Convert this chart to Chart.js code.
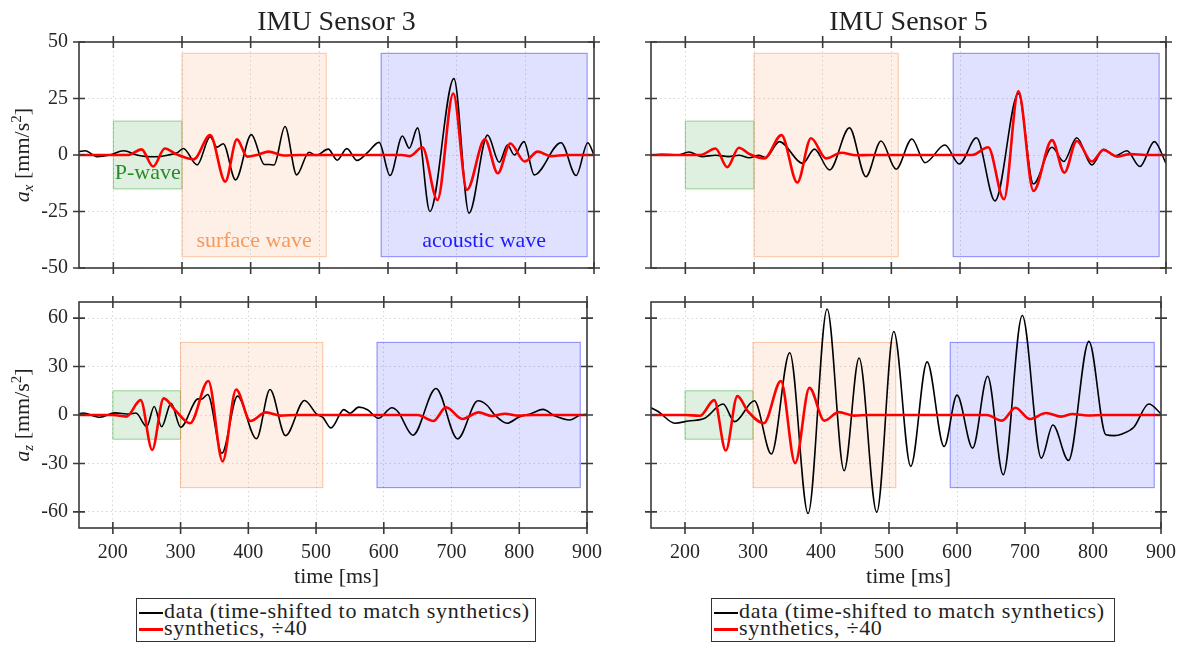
<!DOCTYPE html>
<html>
<head>
<meta charset="utf-8">
<script src="https://cdn.jsdelivr.net/npm/chart.js@4.4.1/dist/chart.umd.min.js"></script>
<style>
  html, body { margin: 0; padding: 0; background: #fff; }
  body { width: 1189px; height: 652px; position: relative; overflow: hidden; font-family: "Liberation Serif", serif; color: #222; }
  .panel { position: absolute; }
  .title { position: absolute; font-size: 28px; line-height: 28px; text-align: center; white-space: nowrap; }
  .xlab { position: absolute; font-size: 22px; line-height: 22px; text-align: center; white-space: nowrap; }
  .ylab { position: absolute; width: 200px; height: 22px; font-size: 22px; line-height: 22px; text-align: center; white-space: nowrap; transform: rotate(-90deg); }
  .ylab .sb { font-size: 15px; position: relative; top: 4px; }
  .ylab .sp { font-size: 15px; position: relative; top: -8px; }
  .legend { position: absolute; border: 1.3px solid #333; box-sizing: border-box; height: 44px; padding-top: 3px; font-size: 22px; letter-spacing: 0.7px; background: #fff; }
  .legend div { height: 17px; line-height: 17px; white-space: nowrap; }
  .legend .sw { display: inline-block; width: 24px; height: 0; vertical-align: middle; margin: 0 1px 0 2px; }
</style>
</head>
<body>

<div class="panel" style="left:0;top:0;width:615px;height:290px"><canvas id="s3x"></canvas></div>
<div class="panel" style="left:600px;top:0;width:589px;height:290px"><canvas id="s5x"></canvas></div>
<div class="panel" style="left:0;top:290px;width:615px;height:300px"><canvas id="s3z"></canvas></div>
<div class="panel" style="left:600px;top:290px;width:589px;height:300px"><canvas id="s5z"></canvas></div>

<div class="title" style="left:79px;width:515px;top:7px">IMU Sensor 3</div>
<div class="title" style="left:651px;width:515px;top:7px">IMU Sensor 5</div>

<div class="ylab" style="left:-78px;top:144px"><i>a<span class="sb">x</span></i> [mm/s<span class="sp">2</span>]</div>
<div class="ylab" style="left:-78px;top:404px"><i>a<span class="sb">z</span></i> [mm/s<span class="sp">2</span>]</div>

<div class="xlab" style="left:79px;width:515px;top:565px">time [ms]</div>
<div class="xlab" style="left:651px;width:515px;top:565px">time [ms]</div>

<div class="legend" style="left:136px;top:598px;width:400px">
  <div><span class="sw" style="border-top:2px solid #000"></span>data (time-shifted to match synthetics)</div>
  <div><span class="sw" style="border-top:3px solid #f00"></span>synthetics, ÷40</div>
</div>
<div class="legend" style="left:711px;top:598px;width:404px">
  <div><span class="sw" style="border-top:2px solid #000"></span>data (time-shifted to match synthetics)</div>
  <div><span class="sw" style="border-top:3px solid #f00"></span>synthetics, ÷40</div>
</div>

<script>
// ---- axis ticks ----
var timeTicks = [200, 300, 400, 500, 600, 700, 800, 900];
var axTicks = [-50, -25, 0, 25, 50];
var azTicks = [-60, -30, 0, 30, 60];

// ---- shaded windows: [start ms, end ms, low, high] ----
var pWaveWin = [200, 300, -15, 15];
var surfaceWin = [300, 510, -45, 45];
var acousticWin = [590, 890, -45, 45];

// ---- IMU sensor 3, a_x ----
var s3xDataT = [150,159,176,195,215,234,249,263,280,293,302,322,341,351,360,378,401,420,427,434,450,467,485,495,513,526,540,555,570,587,603,621,631,643,661,696,718,745,762,774,784,798,813,852,874,891,900];
var s3xDataV = [1.5,1.9,-0.7,0,1.9,0,-0.7,-0.8,0,1,2.9,-4.4,8,3.5,5,-11,9,-4.2,-4.2,-4.4,12.6,-8.8,1.2,-0.2,2.6,-2.3,2.8,-2.4,1,5.6,-9.1,8.4,3,12,-25,33.8,-25.7,8.8,-3.2,4.4,0,5.9,-8.8,5.4,-9.1,5.4,0];
var s3xSynT = [150,205,222,241,258,275,292,317,341,363,380,395,409,426,448,470,620,632,650,672,695,715,741,760,778,799,818,837,860,900];
var s3xSynV = [0,0,0,2.5,-5.1,2.9,0.3,-1.9,8.8,-11.8,6.9,-0.7,0,1.5,-0.2,0,0,-0.5,3.4,-19.9,27.2,-15.4,6.9,-8.1,5.1,-2.9,1.5,-0.5,0,0];

// ---- IMU sensor 5, a_x ----
var s5xDataT = [150,165,190,205,224,244,263,278,293,307,317,337,371,388,410,439,463,485,507,530,549,578,599,624,651,685,707,734,751,770,792,809,826,843,862,883,900];
var s5xDataV = [0,0.3,0,1.3,-0.7,-0.1,-0.7,-0.1,-1.2,-0.1,-1.2,5.9,-3.7,2.6,-6.6,12,-9.6,6.2,-6.3,7.1,-3.4,4.4,-4,7.6,-20.3,27.2,-12.8,3.4,-2.9,7.6,-4.4,2.5,-0.4,1.9,-5.1,5.9,-3.7];
var s5xSynT = [150,200,222,244,261,278,293,315,340,363,383,405,427,449,470,618,641,664,685,707,734,752,770,792,809,829,848,870,900];
var s5xSynV = [0,0,0,2.9,-5.4,3.2,0.5,-1.5,8.8,-12.2,7.4,-1.5,1,-0.1,0,0,3.4,-19.6,28.2,-15.9,6.6,-7.8,6.2,-2.9,2.2,-0.7,0.4,0,0];

// ---- IMU sensor 3, a_z ----
var s3zDataT = [150,156,181,203,224,234,250,261,272,286,300,326,331,340,361,384,412,432,455,483,501,510,522,541,550,563,576,592,612,621,643,677,709,739,752,764,782,799,818,835,852,875,890,900];
var s3zDataV = [0.6,1.2,-1.4,1.3,0.6,1.2,-7.2,5.3,-7.3,7.2,-7.6,10,9.8,12.7,-23.6,11.7,-14.7,15.8,-12.8,9,0.5,-1.5,-8,3.3,1.1,4.9,3.3,-2,4.5,2,-12.5,16.4,-14.8,8.8,6.2,0,-5.1,-1.4,1,3.5,-0.5,-3.1,0,0.4];
var s3zSynT = [150,200,220,241,258,275,292,314,341,362,382,403,426,448,470,650,673,692,716,740,760,779,799,820,900];
var s3zSynV = [0,0,-1,9.2,-21.6,10.3,3,-5.1,21.1,-28.7,15.8,-3.7,1.6,-0.4,0,0,-3.7,4.7,-2.5,1.6,-0.6,0.8,-0.4,0,0];

// ---- IMU sensor 5, a_z ----
var s5zDataT = [150,161,185,205,229,256,273,302,327,354,381,409,434,456,482,507,532,556,581,600,623,645,668,696,724,741,764,794,819,831,843,860,882,900];
var s5zDataV = [4.5,2,-5.1,-3.7,-2,6.8,-4.1,8.8,-24.2,38.6,-61,65.7,-34.5,35.3,-60.2,51.7,-31.8,32.9,-19.5,12.3,-20.5,24,-37,61.6,-26.7,-6.2,-28.1,45.6,-12.3,-12.8,-11.7,-7.6,6.8,0.8];
var s5zSynT = [150,200,222,243,260,277,293,316,341,362,383,405,426,449,470,644,666,686,707,731,753,770,792,815,900];
var s5zSynV = [0,0,-0.5,9.2,-22,11.7,2,-5.1,21,-29.8,16.8,-3.5,1.8,-0.4,0,0,-3.5,4.5,-2.5,1.2,-1,0.6,-0.3,0,0];

var serif = '"Liberation Serif", serif';
var tickFont = { family: serif, size: 20 };

function toPoints(t, v) {
    return t.map(function (x, i) { return { x: x, y: v[i] }; });
}

// boxes, labels, full frame and MATLAB-style tick marks
function framePlugin(withNotes) {
    var boxes = [
        { win: pWaveWin, fill: 'rgba(0,128,0,0.12)', edge: 'rgba(0,150,0,0.4)' },
        { win: surfaceWin, fill: 'rgba(250,130,60,0.12)', edge: 'rgba(245,130,60,0.45)' },
        { win: acousticWin, fill: 'rgba(0,0,255,0.12)', edge: 'rgba(0,0,255,0.45)' }
    ];
    var notes = withNotes ? [
        { text: 'P-wave', t: 250, v: -8, color: '#2a8a2a' },
        { text: 'surface wave', t: 405, v: -38, color: '#f5995c' },
        { text: 'acoustic wave', t: 740, v: -38, color: '#1c1cff' }
    ] : [];
    return {
        id: 'frame',
        beforeDatasetsDraw: function (chart) {
            var ctx = chart.ctx, x = chart.scales.x, y = chart.scales.y;
            ctx.save();
            boxes.forEach(function (b) {
                var x0 = x.getPixelForValue(b.win[0]), x1 = x.getPixelForValue(b.win[1]);
                var y0 = y.getPixelForValue(b.win[3]), y1 = y.getPixelForValue(b.win[2]);
                ctx.fillStyle = b.fill;
                ctx.fillRect(x0, y0, x1 - x0, y1 - y0);
                ctx.strokeStyle = b.edge;
                ctx.lineWidth = 1;
                ctx.strokeRect(x0, y0, x1 - x0, y1 - y0);
            });
            ctx.font = '22px ' + serif;
            ctx.textAlign = 'center';
            ctx.textBaseline = 'middle';
            notes.forEach(function (n) {
                ctx.fillStyle = n.color;
                ctx.fillText(n.text, x.getPixelForValue(n.t), y.getPixelForValue(n.v));
            });
            ctx.restore();
        },
        afterDraw: function (chart) {
            var ctx = chart.ctx, a = chart.chartArea, x = chart.scales.x, y = chart.scales.y;
            ctx.save();
            ctx.strokeStyle = '#3a3a3a';
            ctx.lineWidth = 1.6;
            ctx.strokeRect(a.left, a.top, a.right - a.left, a.bottom - a.top);
            ctx.beginPath();
            x.ticks.forEach(function (t) {
                var p = x.getPixelForValue(t.value);
                ctx.moveTo(p, a.top - 6); ctx.lineTo(p, a.top + 6);
                ctx.moveTo(p, a.bottom - 6); ctx.lineTo(p, a.bottom + 6);
            });
            y.ticks.forEach(function (t) {
                var p = y.getPixelForValue(t.value);
                ctx.moveTo(a.left - 6, p); ctx.lineTo(a.left + 6, p);
                ctx.moveTo(a.right - 6, p); ctx.lineTo(a.right + 6, p);
            });
            ctx.stroke();
            ctx.restore();
        }
    };
}

function makePanel(id, dataT, dataV, synT, synV, yTicks, yLim, o) {
    return new Chart(document.getElementById(id), {
        type: 'line',
        data: {
            datasets: [
                { label: 'data', data: toPoints(dataT, dataV), borderColor: '#000', borderWidth: 1.6, order: 2 },
                { label: 'synthetics', data: toPoints(synT, synV), borderColor: '#ff0000', borderWidth: 2.6, order: 1 }
            ]
        },
        options: {
            animation: false,
            responsive: true,
            maintainAspectRatio: false,
            events: [],
            layout: { padding: o.padding },
            elements: {
                point: { radius: 0 },
                line: { cubicInterpolationMode: 'monotone', fill: false }
            },
            plugins: { legend: { display: false }, tooltip: { enabled: false } },
            scales: {
                x: {
                    type: 'linear', min: 150, max: 900,
                    afterBuildTicks: function (s) { s.ticks = timeTicks.map(function (v) { return { value: v }; }); },
                    afterFit: function (s) { s.height = o.xHeight; },
                    ticks: { display: o.xLabels, font: tickFont, color: '#262626', padding: 13, maxRotation: 0, autoSkip: false },
                    grid: { color: '#d6d6d6', drawTicks: false },
                    border: { display: false, dash: [1.5, 3] }
                },
                y: {
                    type: 'linear', min: yLim[0], max: yLim[1],
                    afterBuildTicks: function (s) { s.ticks = yTicks.map(function (v) { return { value: v }; }); },
                    afterFit: function (s) { s.width = o.yWidth; s.paddingTop = 0; s.paddingBottom = 0; },
                    ticks: { display: o.yLabels, font: tickFont, color: '#262626', padding: 11 },
                    grid: { color: '#d6d6d6', drawTicks: false },
                    border: { display: false, dash: [1.5, 3] }
                }
            }
        },
        plugins: [framePlugin(o.notes)]
    });
}

function drawAll() {
    //- TOP ROW: a_x -
    makePanel('s3x', s3xDataT, s3xDataV, s3xSynT, s3xSynV, axTicks, [-50, 50],
        { padding: { top: 42, bottom: 22, left: 0, right: 21 }, xHeight: 0, yWidth: 79, xLabels: false, yLabels: true, notes: true });
    makePanel('s5x', s5xDataT, s5xDataV, s5xSynT, s5xSynV, axTicks, [-50, 50],
        { padding: { top: 42, bottom: 22, left: 0, right: 23 }, xHeight: 0, yWidth: 51, xLabels: false, yLabels: false, notes: false });

    //- BOTTOM ROW: a_z -
    makePanel('s3z', s3zDataT, s3zDataV, s3zSynT, s3zSynV, azTicks, [-70, 70],
        { padding: { top: 12, bottom: 22, left: 0, right: 21 }, xHeight: 40, yWidth: 79, xLabels: true, yLabels: true, notes: false });
    makePanel('s5z', s5zDataT, s5zDataV, s5zSynT, s5zSynV, azTicks, [-70, 70],
        { padding: { top: 12, bottom: 22, left: 0, right: 23 }, xHeight: 40, yWidth: 51, xLabels: true, yLabels: false, notes: false });
}

// make sure the serif face is ready before the canvases draw text
if (document.fonts && document.fonts.load) {
    Promise.all([
        document.fonts.load('20px "Liberation Serif"'),
        document.fonts.load('22px "Liberation Serif"')
    ]).then(drawAll, drawAll);
} else {
    drawAll();
}
</script>
</body>
</html>
